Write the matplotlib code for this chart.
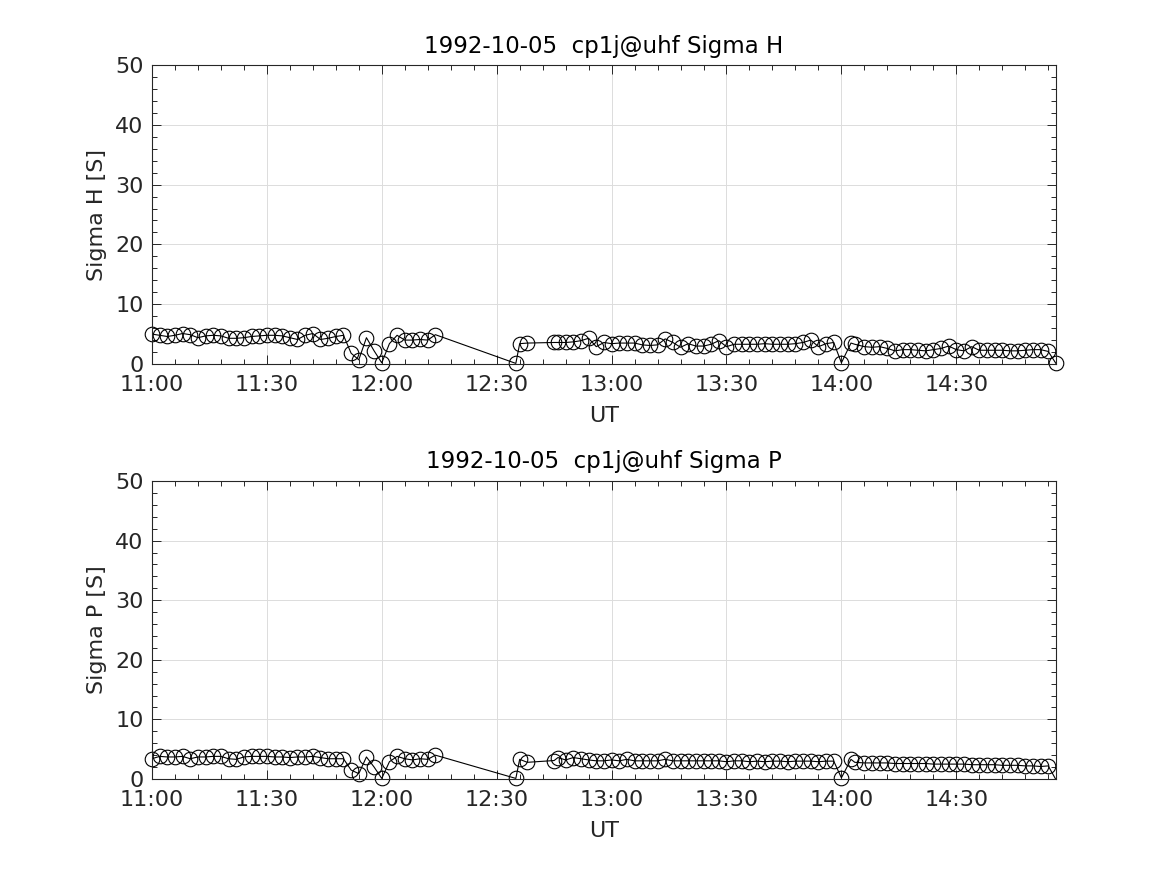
import numpy as np
import pandas as pd
import matplotlib
matplotlib.use('Agg')
import matplotlib.pyplot as plt
import matplotlib.dates as mdates
from matplotlib.ticker import MultipleLocator


DAY = '1992-10-05'
SITE = 'cp1j@uhf'
FONT_SIZE = 16
TITLE_SIZE = 16.5
TEXT_COLOR = '#262626'

# minutes after 11:00 UT
minutes = [0, 2, 4, 6, 8, 10, 12, 14, 16, 18,
           20, 22, 24, 26, 28, 30, 32, 34, 36, 38,
           40, 42, 44, 46, 48, 50, 52, 54, 56, 58,
           60, 62, 64, 66, 68, 70, 72, 74,
           95, 96, 98,
           105, 106, 108, 110, 112, 114, 116, 118, 120, 122,
           124, 126, 128, 130, 132, 134, 136, 138, 140, 142,
           144, 146, 148, 150, 152, 154, 156, 158, 160, 162,
           164, 166, 168, 170, 172, 174, 176, 178,
           180,
           182.5, 183.5, 186, 188, 190, 192, 194, 196, 198, 200,
           202, 204, 206, 208, 210, 212, 214, 216, 218, 220,
           222, 224, 226, 228, 230, 232, 234, 236]

sigma_h = [5.0, 4.8, 4.6, 4.8, 5.1, 4.9, 4.4, 4.7, 4.8, 4.7,
           4.3, 4.3, 4.4, 4.6, 4.7, 4.8, 4.8, 4.7, 4.4, 4.1,
           4.8, 5.1, 4.1, 4.3, 4.6, 4.8, 1.8, 0.7, 4.4, 2.2,
           0.2, 3.4, 4.8, 4.0, 4.0, 4.1, 4.0, 4.9,
           0.1, 3.4, 3.5,
           3.6, 3.6, 3.6, 3.7, 3.9, 4.3, 2.9, 3.6, 3.4, 3.5,
           3.5, 3.5, 3.2, 3.1, 3.2, 4.2, 3.6, 2.8, 3.4, 3.0,
           3.0, 3.3, 3.9, 2.9, 3.3, 3.3, 3.3, 3.3, 3.4, 3.3,
           3.3, 3.3, 3.4, 3.6, 4.0, 2.9, 3.4, 3.6,
           0.2,
           3.5, 3.3, 2.9, 2.8, 2.9, 2.6, 2.2, 2.4, 2.4, 2.3,
           2.2, 2.4, 2.6, 3.0, 2.4, 2.2, 2.9, 2.3, 2.3, 2.3,
           2.3, 2.2, 2.2, 2.3, 2.4, 2.4, 2.1, 0.1]

sigma_p = [3.4, 3.8, 3.7, 3.7, 3.8, 3.4, 3.7, 3.7, 3.8, 3.8,
           3.4, 3.3, 3.7, 3.8, 3.8, 3.8, 3.7, 3.7, 3.6, 3.7,
           3.7, 3.8, 3.6, 3.4, 3.4, 3.4, 1.5, 0.9, 3.7, 2.0,
           0.1, 2.9, 3.8, 3.4, 3.2, 3.4, 3.3, 4.0,
           0.1, 3.3, 2.8,
           3.1, 3.6, 3.2, 3.6, 3.4, 3.2, 3.05, 3.05, 3.2, 3.05,
           3.3, 3.05, 3.05, 3.05, 3.05, 3.3, 3.05, 3.05, 3.05, 3.05,
           3.05, 3.05, 3.05, 2.9, 3.05, 3.05, 2.9, 3.0, 2.9, 3.0,
           3.0, 2.9, 3.0, 3.0, 3.0, 2.9, 3.0, 3.0,
           0.2,
           3.3, 2.8, 2.7, 2.7, 2.7, 2.7, 2.6, 2.6, 2.6, 2.6,
           2.6, 2.5, 2.5, 2.5, 2.5, 2.5, 2.4, 2.4, 2.4, 2.4,
           2.3, 2.3, 2.3, 2.2, 2.2, 2.1, 2.2, -0.1]

panels = [('Sigma H', sigma_h), ('Sigma P', sigma_p)]

t0 = pd.Timestamp(DAY + ' 11:00')
times = t0 + pd.to_timedelta(minutes, unit='m')

plt.rcParams['font.family'] = ['DejaVu Sans']

fig = plt.figure(figsize=(11.67, 8.75), dpi=100)
fig.patch.set_facecolor('white')

# [left, bottom, width, height] in figure fractions
boxes = [[0.1302, 0.5840, 0.7746, 0.3417],
         [0.1302, 0.1097, 0.7746, 0.3406]]

for (name, vals), box in zip(panels, boxes):
    ax = fig.add_axes(box)
    vals = np.array(vals)
    ax.plot(times, vals, '-', color='black', linewidth=0.8)
    # markers are drawn over the box edge, but only for points inside the limits
    inside = vals >= 0
    ax.plot(times[inside], vals[inside], 'o', markersize=10.5,
            markerfacecolor='none', markeredgecolor='black',
            markeredgewidth=0.8, clip_on=False)

    ax.set_xlim(times[0], times[-1])
    ax.set_ylim(0, 50)
    ax.xaxis.set_major_locator(mdates.MinuteLocator(byminute=[0, 30]))
    ax.xaxis.set_minor_locator(mdates.MinuteLocator(byminute=range(0, 60, 6)))
    ax.xaxis.set_major_formatter(mdates.DateFormatter('%H:%M'))
    ax.yaxis.set_major_locator(MultipleLocator(10))
    ax.yaxis.set_minor_locator(MultipleLocator(2))

    ax.grid(True, which='major', color='#dcdcdc', linewidth=0.7)
    ax.set_axisbelow(True)
    ax.tick_params(which='both', direction='in', top=True, right=True,
                   colors=TEXT_COLOR, labelsize=FONT_SIZE, width=0.7)
    ax.tick_params(which='major', length=6.5)
    ax.tick_params(which='minor', length=3.4)
    ax.tick_params(axis='x', which='major', pad=8)
    ax.tick_params(axis='y', which='major', pad=6)
    for s in ax.spines.values():
        s.set_linewidth(0.8)
        s.set_color(TEXT_COLOR)

    ax.set_xlabel('UT', fontsize=FONT_SIZE, color=TEXT_COLOR, labelpad=8)
    ax.set_ylabel(name + ' [S]', fontsize=FONT_SIZE, color=TEXT_COLOR, labelpad=6)
    ax.set_title(DAY + '  ' + SITE + ' ' + name, fontsize=TITLE_SIZE,
                 color='black', pad=9)

plt.savefig('out.png', dpi=100, facecolor='white')
